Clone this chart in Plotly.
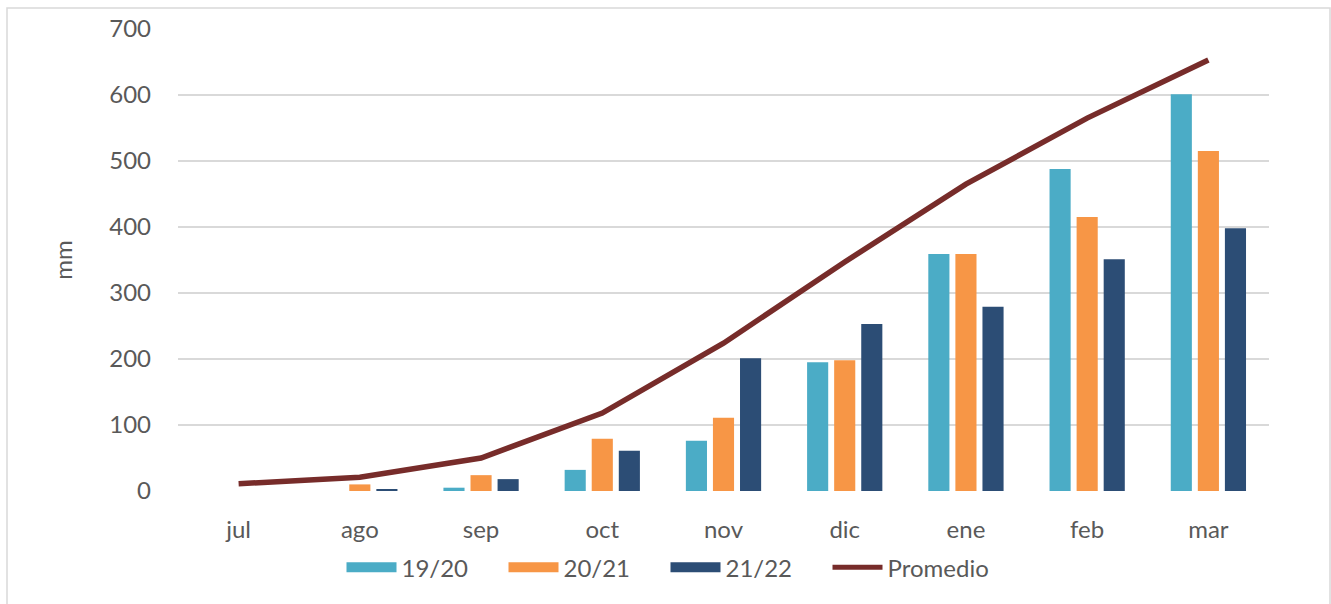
import plotly.graph_objects as go

months = ["jul", "ago", "sep", "oct", "nov", "dic", "ene", "feb", "mar"]
s1920 = [0, 0, 5, 32, 76, 195, 359, 488, 601]
s2021 = [0, 10, 24, 79, 111, 198, 359, 415, 515]
s2122 = [0, 2, 18, 61, 201, 253, 279, 351, 398]
promedio = [11, 21, 50, 118, 224, 347, 465, 565, 653]
yticks = [0, 100, 200, 300, 400, 500, 600, 700]
series_names = ["19/20", "20/21", "21/22"]
series_colors = ["#4BACC6", "#F79646", "#2C4D75"]
line_color = "#772C2A"

font_fam = "Lato, 'Open Sans', sans-serif"
gray = "#595959"

fig = go.Figure()
for vals, name, col in zip([s1920, s2021, s2122], series_names, series_colors):
    fig.add_trace(go.Bar(x=months, y=vals, name=name, marker=dict(color=col, line=dict(width=0)),
                         showlegend=False, legendgroup=name))
fig.add_trace(go.Scatter(x=months, y=promedio, name="Promedio", mode="lines",
                         line=dict(color=line_color, width=5.5), showlegend=False, legendgroup="p"))
# legend entries (wide swatches like the original)
for name, col in zip(series_names, series_colors):
    fig.add_trace(go.Scatter(x=[None], y=[None], name=name, mode="lines",
                             line=dict(color=col, width=18), legendgroup=name))
fig.add_trace(go.Scatter(x=[None], y=[None], name="Promedio", mode="lines",
                         line=dict(color=line_color, width=5), legendgroup="p"))

W, H = 1331, 604
L, R, T, B = 178, 62, 29, 113
pw = W - L - R
ph = H - T - B

fig.update_layout(
    width=W, height=H,
    margin=dict(l=L, r=R, t=T, b=B, autoexpand=False),
    paper_bgcolor="white", plot_bgcolor="white",
    barmode="group", bargap=0.33, bargroupgap=0.22,
    font=dict(family=font_fam, color=gray, size=24),
    showlegend=True,
    legend=dict(orientation="h", xref="container", x=0.5, xanchor="center",
                yref="container", y=0.06, yanchor="middle",
                font=dict(size=24, color=gray), traceorder="normal",
                itemwidth=50, tracegroupgap=0, entrywidth=97, entrywidthmode="pixels"),
    xaxis=dict(showgrid=False, showline=False, ticks="", tickfont=dict(size=24, color=gray),
               ticklabelstandoff=22),
    yaxis=dict(range=[0, 700], tickvals=yticks, showgrid=True, gridcolor="#D9D9D9", gridwidth=1.5,
               zeroline=False, showline=False, ticks="", tickfont=dict(size=24, color=gray),
               ticklabelstandoff=26,
               title=dict(text="mm", font=dict(size=24, color=gray), standoff=29)),
    shapes=[dict(type="rect", xref="paper", yref="paper",
                 x0=(7 - L) / pw, x1=(1330 - L) / pw,
                 y0=(491 - 640) / ph, y1=(491 - 8) / ph,
                 line=dict(color="#D9D9D9", width=1.5), fillcolor="rgba(0,0,0,0)", layer="below")],
)

fig.write_html("out.html", config={"displayModeBar": False},
               post_script="document.body.style.margin='0';document.documentElement.style.overflow='hidden';")
